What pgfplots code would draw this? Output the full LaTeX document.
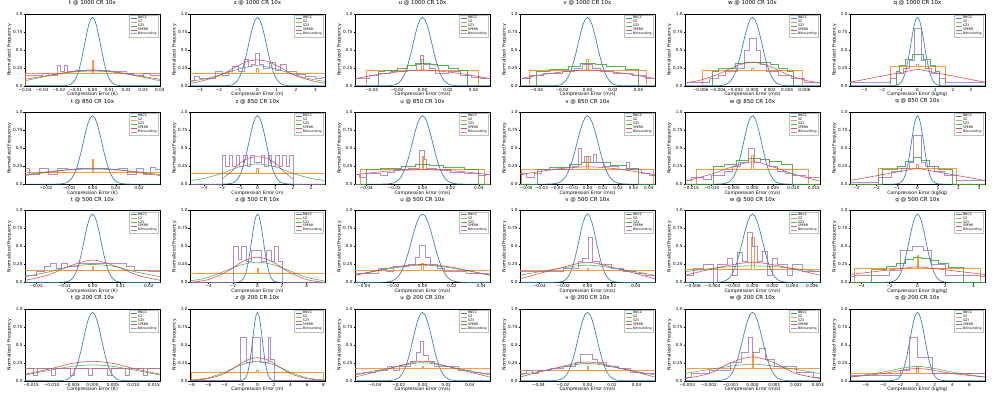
\documentclass[border=0pt]{standalone}
\usepackage{fontspec}
\setmainfont{DejaVu Sans}
\usepackage{pgfplots}
\usepackage{pgfplotstable}
\pgfplotsset{compat=1.18}
\usepgfplotslibrary{groupplots}
\definecolor{cB}{HTML}{1f77b4}
\definecolor{cO}{HTML}{ff7f0e}
\definecolor{cG}{HTML}{2ca02c}
\definecolor{cR}{HTML}{d62728}
\definecolor{cP}{HTML}{9467bd}
\newcommand{\ttl}{\fontsize{5.5}{6}\selectfont}
\newcommand{\lb}{\fontsize{4.6}{5}\selectfont}
\newcommand{\tk}{\fontsize{4.2}{4.6}\selectfont}
\newcommand{\lgf}{\fontsize{3.2}{3.6}\selectfont}

% BNCC bell shape, x in units of its width
\pgfplotstableread{
u g
-40 0
-4 0.0003
-3.5 0.0021
-3 0.0105
-2.75 0.0216
-2.5 0.0417
-2.25 0.0756
-2 0.1286
-1.75 0.2055
-1.5 0.3084
-1.25 0.4349
-1 0.5762
-0.75 0.7171
-0.5 0.8384
-0.25 0.9208
0 0.95
0.25 0.9208
0.5 0.8384
0.75 0.7171
1 0.5762
1.25 0.4349
1.5 0.3084
1.75 0.2055
2 0.1286
2.25 0.0756
2.5 0.0417
2.75 0.0216
3 0.0105
3.5 0.0021
4 0.0003
40 0
}\gauss

\newcommand{\bncc}[1]{\addplot[cB, line width=0.7pt, opacity=0.9] table[x expr=\thisrow{u}*#1, y=g]{\gauss};}
\newcommand{\ex}[1]{\node[anchor=north east, font=\tk, inner sep=0pt] at (rel axis cs:1,0) [yshift=-8.5pt] {#1};}

\pgfplotsset{
 tA/.style={xtick={-0.04,-0.03,-0.02,-0.01,0,0.01,0.02,0.03,0.04},xticklabels={−0.04,−0.03,−0.02,−0.01,0.00,0.01,0.02,0.03,0.04}},
 tB/.style={xtick={-0.04,-0.02,0,0.02,0.04},xticklabels={−0.04,−0.02,0.00,0.02,0.04}},
 tC/.style={xtick={-0.02,-0.01,0,0.01,0.02},xticklabels={−0.02,−0.01,0.00,0.01,0.02}},
 tD/.style={xtick={-0.015,-0.01,-0.005,0,0.005,0.01,0.015},xticklabels={−0.015,−0.010,−0.005,0.000,0.005,0.010,0.015}},
 tE/.style={xtick={-0.006,-0.004,-0.002,0,0.002,0.004,0.006},xticklabels={−0.006,−0.004,−0.002,0.000,0.002,0.004,0.006}},
 tF/.style={xtick={-0.003,-0.002,-0.001,0,0.001,0.002,0.003},xticklabels={−0.003,−0.002,−0.001,0.000,0.001,0.002,0.003}},
 i3/.style={xtick={-3,-2,-1,0,1,2,3},xticklabels={−3,−2,−1,0,1,2,3}},
 i4/.style={xtick={-4,-2,0,2,4},xticklabels={−4,−2,0,2,4}},
 i6/.style={xtick={-6,-4,-2,0,2,4,6},xticklabels={−6,−4,−2,0,2,4,6}},
 i8/.style={xtick={-8,-6,-4,-2,0,2,4,6,8},xticklabels={−8,−6,−4,−2,0,2,4,6,8}},
 pO/.style={cO, line width=0.6pt, opacity=0.8},
 pG/.style={cG, line width=0.6pt, opacity=0.8},
 pR/.style={cR, line width=0.6pt, opacity=0.8},
 pP/.style={cP, line width=0.6pt, opacity=0.75},
}

\begin{document}
\begin{tikzpicture}
\begin{groupplot}[
  group style={group size=6 by 4, horizontal sep=30pt, vertical sep=26.3pt},
  width=135pt, height=72pt, scale only axis,
  ymin=0, ymax=1,
  ytick={0,0.25,0.5,0.75,1}, yticklabels={0.0,0.25,0.5,0.75,1.0},
  scaled x ticks=false, scaled y ticks=false,
  ylabel={Normalized Frequency},
  label style={font=\lb},
  tick label style={font=\tk},
  xticklabel style={inner sep=0.6pt},
  yticklabel style={inner sep=0.8pt},
  title style={font=\ttl, inner sep=0.5pt, yshift=1.4pt},
  tick pos=left, tick align=outside, major tick length=1.5pt,
  every tick/.style={black, line width=0.3pt},
  axis line style={line width=0.4pt},
  xlabel style={inner sep=0.4pt},
  ylabel style={inner sep=0.6pt},
  legend entries={BNCC,SZ,SZ3,SPERR,Bitrounding},
  legend style={font=\lgf, at={(0.985,0.985)}, anchor=north east, draw=black!25,
    inner sep=0.6pt, row sep=-1.2pt, cells={anchor=west}, nodes={inner sep=0.6pt}},
  legend image code/.code={\draw[#1] (0pt,0pt) -- (6.5pt,0pt);},
]
%% ---------- row 1: 1000 ----------
\nextgroupplot[title={t @ 1000 CR 10x}, xmin=-0.04005, xmax=0.04005, tA, xlabel={Compression Error (K)}]
\bncc{0.0047}
\addplot[pO, const plot] coordinates {(-0.04,0)(-0.04,0.17)(-0.0004,0.35)(0.0004,0.17)(0.04,0.17)};
\addplot[pG, smooth] coordinates {(-0.04,0.07)(-0.03,0.12)(-0.02,0.165)(-0.01,0.195)(0,0.205)(0.01,0.195)(0.02,0.165)(0.03,0.12)(0.04,0.07)};
\addplot[pR, smooth] coordinates {(-0.04,0.09)(-0.03,0.13)(-0.02,0.17)(-0.01,0.205)(0,0.22)(0.01,0.205)(0.02,0.17)(0.03,0.13)(0.04,0.09)};
\addplot[pP, const plot] coordinates {(-0.04,0.15)(-0.03,0.17)(-0.026,0.15)(-0.021,0.28)(-0.019,0.2)(-0.017,0.28)(-0.015,0.2)(-0.01,0.21)(0.01,0.2)(0.02,0.17)(0.024,0.15)(0.03,0.17)(0.034,0.15)(0.04,0.15)};

\nextgroupplot[title={z @ 1000 CR 10x}, xmin=-3.5, xmax=3.5, i3, xlabel={Compression Error (m)}]
\bncc{0.46}
\addplot[pO, const plot] coordinates {(-3.5,0.17)(-0.04,0.25)(0.04,0.17)(3.5,0.17)};
\addplot[pG, smooth] coordinates {(-3.5,0.06)(-2.5,0.11)(-1.5,0.19)(-0.75,0.25)(0,0.28)(0.75,0.25)(1.5,0.19)(2.5,0.11)(3.5,0.06)};
\addplot[pR, smooth] coordinates {(-3.5,0.035)(-3,0.06)(-2,0.14)(-1,0.28)(-0.5,0.34)(0,0.36)(0.5,0.34)(1,0.28)(2,0.14)(3,0.06)(3.5,0.035)};
\addplot[pP, const plot] coordinates {(-3.5,0.07)(-3.3,0.13)(-3.0,0.1)(-2.2,0.2)(-1.8,0.15)(-1.5,0.2)(-1.3,0.27)(-1.0,0.2)(-0.7,0.37)(-0.5,0.27)(-0.3,0.3)(-0.1,0.45)(0.1,0.3)(0.3,0.25)(0.6,0.32)(0.9,0.22)(1.2,0.3)(1.5,0.2)(2.0,0.16)(2.5,0.13)(3.0,0.1)(3.3,0.12)(3.5,0.12)};

\nextgroupplot[title={u @ 1000 CR 10x}, xmin=-0.053, xmax=0.053, tB, xlabel={Compression Error (m/s)}]
\bncc{0.0075}
\addplot[pO, const plot] coordinates {(-0.053,0)(-0.044,0.21)(-0.0006,0.37)(0.0006,0.21)(0.044,0)(0.053,0)};
\addplot[pG, const plot] coordinates {(-0.053,0)(-0.035,0.2)(-0.03,0.22)(-0.02,0.25)(-0.012,0.29)(-0.006,0.31)(0.006,0.3)(0.012,0.28)(0.02,0.25)(0.028,0.22)(0.035,0)(0.053,0)};
\addplot[pR, smooth] coordinates {(-0.053,0.1)(-0.03,0.17)(0,0.22)(0.03,0.17)(0.053,0.1)};
\addplot[pP, const plot] coordinates {(-0.053,0.1)(-0.042,0.14)(-0.035,0.17)(-0.025,0.2)(-0.012,0.22)(-0.005,0.3)(-0.002,0.42)(0.001,0.3)(0.005,0.25)(0.01,0.17)(0.02,0.2)(0.03,0.15)(0.038,0.12)(0.045,0.1)(0.053,0.1)};

\nextgroupplot[title={v @ 1000 CR 10x}, xmin=-0.053, xmax=0.053, tB, xlabel={Compression Error (m/s)}]
\bncc{0.0075}
\addplot[pO, const plot] coordinates {(-0.053,0)(-0.046,0.21)(-0.0006,0.37)(0.0006,0.21)(0.046,0)(0.053,0)};
\addplot[pG, const plot] coordinates {(-0.053,0)(-0.04,0.2)(-0.03,0.23)(-0.015,0.27)(-0.006,0.31)(0.006,0.3)(0.015,0.27)(0.03,0.23)(0.04,0)(0.053,0)};
\addplot[pR, smooth] coordinates {(-0.053,0.1)(-0.03,0.17)(0,0.22)(0.03,0.17)(0.053,0.1)};
\addplot[pP, const plot] coordinates {(-0.053,0.1)(-0.045,0.15)(-0.035,0.18)(-0.02,0.2)(-0.01,0.25)(-0.004,0.3)(0.004,0.25)(0.01,0.2)(0.02,0.18)(0.035,0.14)(0.045,0.1)(0.053,0.1)};

\nextgroupplot[title={w @ 1000 CR 10x}, xmin=-0.0078, xmax=0.0078, tE, xlabel={Compression Error (m/s)}]
\bncc{0.0011}
\addplot[pO, const plot] coordinates {(-0.0078,0)(-0.0058,0.21)(-0.0001,0.25)(0.0001,0.21)(0.0058,0)(0.0078,0)};
\addplot[pG, const plot] coordinates {(-0.0078,0)(-0.0047,0.2)(-0.004,0.24)(-0.002,0.31)(-0.001,0.33)(0.001,0.32)(0.002,0.3)(0.003,0.25)(0.004,0.2)(0.0047,0)(0.0078,0)};
\addplot[pR, smooth] coordinates {(-0.0078,0.04)(-0.006,0.08)(-0.004,0.16)(-0.002,0.27)(0,0.33)(0.002,0.27)(0.004,0.16)(0.006,0.08)(0.0078,0.04)};
\addplot[pP, const plot] coordinates {(-0.0078,0.05)(-0.0065,0.05)(-0.005,0.1)(-0.004,0.14)(-0.0032,0.2)(-0.0018,0.25)(-0.0009,0.5)(-0.0004,0.66)(0.0004,0.5)(0.0009,0.3)(0.0016,0.2)(0.003,0.15)(0.0045,0.1)(0.006,0.05)(0.0078,0.05)};

\nextgroupplot[title={q @ 1000 CR 10x}, xmin=-3.8, xmax=3.8, i3, xlabel={Compression Error (kg/kg)}]
\bncc{0.38}
\addplot[pO, const plot] coordinates {(-3.8,0)(-1.55,0.27)(-0.05,0.3)(0.05,0.27)(1.55,0)(3.8,0)};
\addplot[pG, const plot] coordinates {(-3.8,0)(-1.2,0.2)(-1.0,0.28)(-0.7,0.37)(-0.3,0.44)(0.3,0.37)(0.7,0.28)(1.0,0.2)(1.2,0)(3.8,0)};
\addplot[pR] coordinates {(-3.8,0.05)(0,0.23)(3.8,0.05)};
\addplot[pP, const plot] coordinates {(-3.8,0.05)(-1.55,0.1)(-1.2,0.18)(-0.8,0.25)(-0.45,0.35)(-0.2,0.8)(0.2,0.35)(0.45,0.25)(0.8,0.18)(1.2,0.1)(1.55,0.05)(3.8,0.05)};
\ex{1e−5}

%% ---------- row 2: 850 ----------
\nextgroupplot[title={t @ 850 CR 10x}, xmin=-0.029, xmax=0.029, tC, xlabel={Compression Error (K)}]
\bncc{0.004}
\addplot[pO, const plot] coordinates {(-0.029,0.17)(-0.0003,0.35)(0.0003,0.17)(0.029,0.17)};
\addplot[pG, smooth] coordinates {(-0.029,0.13)(-0.02,0.17)(-0.01,0.2)(0,0.21)(0.01,0.2)(0.02,0.17)(0.029,0.13)};
\addplot[pR, smooth] coordinates {(-0.029,0.12)(-0.02,0.16)(-0.01,0.2)(0,0.22)(0.01,0.2)(0.02,0.16)(0.029,0.12)};
\addplot[pP, const plot] coordinates {(-0.029,0.22)(-0.027,0.14)(-0.023,0.22)(-0.019,0.14)(-0.015,0.22)(-0.011,0.2)(-0.007,0.22)(0.007,0.2)(0.011,0.22)(0.015,0.14)(0.019,0.22)(0.022,0.14)(0.025,0.24)(0.027,0.2)(0.029,0.2)};

\nextgroupplot[title={z @ 850 CR 10x}, xmin=-3.8, xmax=3.8, i3, xlabel={Compression Error (m)}]
\bncc{0.49}
\addplot[pO, const plot] coordinates {(-3.8,0.155)(-0.04,0.22)(0.04,0.155)(3.8,0.155)};
\addplot[pG, smooth] coordinates {(-3.8,0.05)(-3,0.08)(-2,0.15)(-1,0.24)(0,0.28)(1,0.24)(2,0.15)(3,0.08)(3.8,0.05)};
\addplot[pR, smooth] coordinates {(-2,0.07)(-1.5,0.17)(-1,0.29)(-0.5,0.36)(0,0.38)(0.5,0.36)(1,0.29)(1.5,0.17)(2,0.07)};
\addplot[pP, const plot] coordinates {(-3.8,0)(-2,0.4)(-1.8,0.25)(-1.6,0.4)(-1.4,0.25)(-1.2,0.4)(-1.0,0.25)(-0.8,0.4)(-0.6,0.25)(-0.4,0.4)(-0.2,0.3)(0.2,0.4)(0.4,0.25)(0.6,0.4)(0.8,0.25)(1.0,0.4)(1.2,0.25)(1.4,0.4)(1.6,0.25)(1.8,0.4)(2.0,0)(3.8,0)};

\nextgroupplot[title={u @ 850 CR 10x}, xmin=-0.048, xmax=0.048, tB, xlabel={Compression Error (m/s)}]
\bncc{0.0072}
\addplot[pO, const plot] coordinates {(-0.048,0)(-0.044,0.2)(-0.0005,0.38)(0.0005,0.2)(0.044,0)(0.048,0)};
\addplot[pG, const plot] coordinates {(-0.048,0)(-0.04,0.2)(-0.03,0.22)(-0.015,0.25)(-0.005,0.27)(0.005,0.26)(0.015,0.24)(0.03,0.21)(0.04,0)(0.048,0)};
\addplot[pR, smooth] coordinates {(-0.048,0.13)(-0.025,0.18)(0,0.2)(0.025,0.18)(0.048,0.13)};
\addplot[pP, const plot] coordinates {(-0.048,0.13)(-0.045,0.1)(-0.04,0.15)(-0.03,0.12)(-0.025,0.17)(-0.02,0.2)(-0.01,0.22)(-0.002,0.47)(0.001,0.35)(0.003,0.22)(0.01,0.2)(0.02,0.17)(0.03,0.15)(0.04,0.12)(0.045,0.14)(0.048,0.13)};

\nextgroupplot[title={v @ 850 CR 10x}, xmin=-0.04405, xmax=0.04405, tA, xlabel={Compression Error (m/s)}]
\bncc{0.0068}
\addplot[pO, const plot] coordinates {(-0.044,0)(-0.043,0.21)(-0.0005,0.38)(0.0005,0.21)(0.043,0)(0.044,0)};
\addplot[pG, const plot] coordinates {(-0.044,0)(-0.033,0.2)(-0.025,0.23)(-0.012,0.28)(-0.004,0.31)(0.006,0.3)(0.015,0.26)(0.025,0.22)(0.033,0)(0.044,0)};
\addplot[pR, smooth] coordinates {(-0.044,0.13)(-0.02,0.21)(0,0.24)(0.02,0.21)(0.044,0.13)};
\addplot[pP, const plot] coordinates {(-0.044,0.15)(-0.04,0.1)(-0.035,0.15)(-0.03,0.2)(-0.02,0.2)(-0.01,0.25)(-0.006,0.5)(-0.004,0.3)(-0.002,0.38)(0.002,0.3)(0.004,0.42)(0.006,0.3)(0.01,0.25)(0.02,0.2)(0.025,0.3)(0.027,0.2)(0.035,0.15)(0.04,0.12)(0.044,0.12)};

\nextgroupplot[title={w @ 850 CR 10x}, xmin=-0.0165, xmax=0.0165, tD, xlabel={Compression Error (m/s)}]
\bncc{0.0022}
\addplot[pO, const plot] coordinates {(-0.0165,0)(-0.0137,0.21)(-0.0002,0.4)(0.0002,0.21)(0.0137,0)(0.0165,0)};
\addplot[pG, const plot] coordinates {(-0.0165,0)(-0.0097,0.25)(-0.007,0.27)(-0.004,0.33)(-0.001,0.36)(0.002,0.35)(0.004,0.32)(0.007,0.27)(0.0097,0)(0.0165,0)};
\addplot[pR, smooth] coordinates {(-0.0165,0.04)(-0.01,0.14)(-0.005,0.24)(0,0.31)(0.005,0.24)(0.01,0.14)(0.0165,0.04)};
\addplot[pP, const plot] coordinates {(-0.0165,0.05)(-0.015,0.1)(-0.012,0.07)(-0.01,0.12)(-0.007,0.18)(-0.005,0.25)(-0.003,0.3)(-0.001,0.5)(0.0005,0.3)(0.002,0.35)(0.004,0.25)(0.006,0.18)(0.008,0.15)(0.01,0.12)(0.013,0.1)(0.0165,0.07)};

\nextgroupplot[title={q @ 850 CR 10x}, xmin=-3.3, xmax=3.3, i3, xlabel={Compression Error (kg/kg)}]
\bncc{0.3}
\addplot[pO, const plot] coordinates {(-3.3,0)(-1.9,0.22)(-0.05,0.27)(0.05,0.22)(1.9,0)(3.3,0)};
\addplot[pG, const plot] coordinates {(-3.3,0)(-1.7,0.2)(-1.0,0.25)(-0.6,0.32)(-0.2,0.37)(0.2,0.33)(0.6,0.25)(1.0,0.2)(1.7,0)(3.3,0)};
\addplot[pR] coordinates {(-3.3,0.05)(0,0.22)(3.3,0.05)};
\addplot[pP, const plot] coordinates {(-3.3,0.03)(-1.9,0.1)(-1.3,0.18)(-0.8,0.22)(-0.4,0.3)(-0.2,0.68)(0.2,0.3)(0.4,0.25)(0.8,0.18)(1.3,0.12)(1.9,0.05)(3.3,0.05)};
\ex{1e−5}

%% ---------- row 3: 500 ----------
\nextgroupplot[title={t @ 500 CR 10x}, xmin=-0.024, xmax=0.024, tC, xlabel={Compression Error (K)}]
\bncc{0.003}
\addplot[pO, const plot] coordinates {(-0.024,0.17)(-0.0002,0.22)(0.0002,0.17)(0.024,0.17)};
\addplot[pG, smooth] coordinates {(-0.024,0.08)(-0.015,0.15)(-0.008,0.22)(0,0.25)(0.008,0.22)(0.015,0.15)(0.024,0.08)};
\addplot[pR, smooth] coordinates {(-0.024,0.03)(-0.016,0.1)(-0.008,0.23)(0,0.31)(0.008,0.23)(0.016,0.1)(0.024,0.03)};
\addplot[pP, const plot] coordinates {(-0.024,0.1)(-0.02,0.15)(-0.017,0.22)(-0.015,0.27)(-0.013,0.2)(-0.011,0.27)(-0.009,0.22)(-0.005,0.26)(0.005,0.27)(0.009,0.26)(0.012,0.22)(0.015,0.17)(0.02,0.15)(0.024,0.15)};

\nextgroupplot[title={z @ 500 CR 10x}, xmin=-5.5, xmax=5.5, i4, xlabel={Compression Error (m)}]
\bncc{0.48}
\addplot[pO, const plot] coordinates {(-5.5,0.13)(-0.05,0.2)(0.05,0.13)(5.5,0.13)};
\addplot[pG, smooth] coordinates {(-5.5,0.02)(-4,0.07)(-2.5,0.17)(-1.2,0.25)(0,0.28)(1.2,0.25)(2.5,0.17)(4,0.07)(5.5,0.02)};
\addplot[pR, smooth] coordinates {(-5.5,0.0)(-4,0.04)(-2.5,0.15)(-1.2,0.29)(0,0.35)(1.2,0.29)(2.5,0.15)(4,0.04)(5.5,0.0)};
\addplot[pP, const plot] coordinates {(-5.5,0)(-2,0.5)(-1.6,0.32)(-1.3,0.5)(-0.9,0.3)(-0.5,0.45)(0.3,0.3)(0.7,0.45)(1.1,0.3)(1.4,0.5)(1.7,0.3)(2,0)(5.5,0)};

\nextgroupplot[title={u @ 500 CR 10x}, xmin=-0.046, xmax=0.046, tB, xlabel={Compression Error (m/s)}]
\bncc{0.0075}
\addplot[pO, const plot] coordinates {(-0.046,0.17)(-0.0005,0.27)(0.0005,0.17)(0.046,0.17)};
\addplot[pG, smooth] coordinates {(-0.046,0.1)(-0.02,0.2)(0,0.24)(0.02,0.2)(0.046,0.1)};
\addplot[pR, smooth] coordinates {(-0.046,0.1)(-0.02,0.21)(0,0.25)(0.02,0.21)(0.046,0.1)};
\addplot[pP, const plot] coordinates {(-0.046,0.12)(-0.03,0.2)(-0.025,0.15)(-0.02,0.22)(-0.01,0.25)(-0.005,0.35)(-0.002,0.52)(0.002,0.35)(0.005,0.25)(0.01,0.2)(0.015,0.15)(0.03,0.12)(0.046,0.12)};

\nextgroupplot[title={v @ 500 CR 10x}, xmin=-0.056, xmax=0.056, tB, xlabel={Compression Error (m/s)}]
\bncc{0.0072}
\addplot[pO, const plot] coordinates {(-0.056,0.17)(-0.0005,0.2)(0.0005,0.17)(0.056,0.17)};
\addplot[pG, smooth] coordinates {(-0.056,0.1)(-0.025,0.19)(0,0.24)(0.025,0.19)(0.056,0.1)};
\addplot[pR, smooth] coordinates {(-0.056,0.05)(-0.025,0.19)(0,0.28)(0.025,0.19)(0.056,0.05)};
\addplot[pP, const plot] coordinates {(-0.056,0.15)(-0.04,0.15)(-0.02,0.2)(-0.008,0.3)(-0.004,0.33)(0.001,0.62)(0.004,0.3)(0.01,0.25)(0.02,0.2)(0.03,0.15)(0.04,0.12)(0.048,0.1)(0.056,0.1)};

\nextgroupplot[title={w @ 500 CR 10x}, xmin=-0.0068, xmax=0.0068, tE, xlabel={Compression Error (m/s)}]
\bncc{0.001}
\addplot[pO, const plot] coordinates {(-0.0068,0.18)(-0.00015,0.62)(0.00015,0.18)(0.0068,0.18)};
\addplot[pG, smooth] coordinates {(-0.0068,0.15)(-0.003,0.21)(0,0.23)(0.003,0.21)(0.0068,0.15)};
\addplot[pR, smooth] coordinates {(-0.0068,0.1)(-0.003,0.22)(0,0.28)(0.003,0.22)(0.0068,0.1)};
\addplot[pP, const plot] coordinates {(-0.0068,0.1)(-0.006,0.2)(-0.005,0.25)(-0.004,0.0)(-0.0035,0.25)(-0.0025,0.33)(-0.002,0.1)(-0.0015,0.42)(-0.001,0.3)(-0.0005,0.7)(0,0.5)(0.0005,0.3)(0.001,0.43)(0.0015,0.1)(0.002,0.33)(0.0025,0.25)(0.0035,0.1)(0.004,0.25)(0.005,0.15)(0.0068,0.15)};

\nextgroupplot[title={q @ 500 CR 10x}, xmin=-4.83, xmax=4.83, i4, xlabel={Compression Error (kg/kg)}]
\bncc{0.6}
\addplot[pO, const plot] coordinates {(-4.83,0)(-4.5,0.19)(-0.05,0.37)(0.05,0.19)(4.5,0)(4.83,0)};
\addplot[pG, const plot] coordinates {(-4.83,0)(-3.3,0.18)(-2.2,0.22)(-1.5,0.27)(-0.9,0.32)(-0.3,0.35)(0.3,0.34)(0.9,0.31)(1.5,0.26)(2.2,0.21)(3.3,0)(4.83,0)};
\addplot[pR] coordinates {(-4.83,0.11)(0,0.22)(4.83,0.11)};
\addplot[pP, const plot] coordinates {(-4.83,0.08)(-4.5,0.1)(-2.0,0.17)(-1.2,0.45)(-0.4,0.5)(0.4,0.45)(1.0,0.25)(2.0,0.1)(4.5,0.08)(4.83,0.08)};
\ex{1e−6}

%% ---------- row 4: 200 ----------
\nextgroupplot[title={t @ 200 CR 10x}, xmin=-0.0165, xmax=0.0165, tD, xlabel={Compression Error (K)}]
\bncc{0.0022}
\addplot[pO, const plot] coordinates {(-0.0165,0.17)(0.0165,0.17)};
\addplot[pG, smooth] coordinates {(-0.0165,0.08)(-0.01,0.15)(-0.005,0.2)(0,0.22)(0.005,0.2)(0.01,0.15)(0.0165,0.08)};
\addplot[pR, smooth] coordinates {(-0.0165,0.09)(-0.01,0.17)(-0.005,0.24)(0,0.27)(0.005,0.24)(0.01,0.17)(0.0165,0.09)};
\addplot[pP, const plot] coordinates {(-0.0165,0.17)(-0.0145,0.08)(-0.0135,0.17)(-0.01,0.08)(-0.009,0.17)(-0.0055,0.08)(-0.0045,0.17)(-0.001,0.08)(0,0.17)(0.0035,0.08)(0.0045,0.17)(0.008,0.08)(0.009,0.17)(0.0125,0.08)(0.0135,0.17)(0.0165,0.17)};

\nextgroupplot[title={z @ 200 CR 10x}, xmin=-8.2, xmax=8.2, i8, xlabel={Compression Error (m)}]
\bncc{0.58}
\addplot[pO, const plot] coordinates {(-8.2,0)(-8,0.12)(-0.1,0.14)(0.1,0.12)(8,0)(8.2,0)};
\addplot[pG, smooth] coordinates {(-8.2,0.01)(-6,0.04)(-4,0.12)(-2,0.22)(0,0.27)(2,0.22)(4,0.12)(6,0.04)(8.2,0.01)};
\addplot[pR, smooth] coordinates {(-8.2,0)(-6,0.03)(-4,0.1)(-2,0.24)(-1,0.3)(0,0.32)(1,0.3)(2,0.24)(4,0.1)(6,0.03)(8.2,0)};
\addplot[pP, const plot] coordinates {(-8.2,0)(-2.1,0.6)(-1.4,0.25)(-0.6,0.6)(0.4,0.25)(1.3,0.6)(1.6,0.3)(2.0,0)(8.2,0)};

\nextgroupplot[title={u @ 200 CR 10x}, xmin=-0.057, xmax=0.057, tB, xlabel={Compression Error (m/s)}]
\bncc{0.008}
\addplot[pO, const plot] coordinates {(-0.057,0.17)(-0.0005,0.2)(0.0005,0.17)(0.057,0.17)};
\addplot[pG, smooth] coordinates {(-0.057,0.08)(-0.03,0.17)(0,0.25)(0.03,0.17)(0.057,0.08)};
\addplot[pR, smooth] coordinates {(-0.057,0.05)(-0.03,0.16)(0,0.27)(0.03,0.16)(0.057,0.05)};
\addplot[pP, const plot] coordinates {(-0.057,0.1)(-0.05,0.12)(-0.04,0.15)(-0.03,0.2)(-0.025,0.15)(-0.02,0.2)(-0.01,0.27)(-0.005,0.4)(-0.002,0.55)(0.001,0.35)(0.005,0.27)(0.01,0.2)(0.02,0.2)(0.03,0.15)(0.04,0.12)(0.05,0.1)(0.057,0.1)};

\nextgroupplot[title={v @ 200 CR 10x}, xmin=-0.055, xmax=0.055, tB, xlabel={Compression Error (m/s)}]
\bncc{0.0078}
\addplot[pO, const plot] coordinates {(-0.055,0.15)(-0.0005,0.2)(0.0005,0.15)(0.055,0.15)};
\addplot[pG, smooth] coordinates {(-0.055,0.08)(-0.03,0.16)(0,0.24)(0.03,0.16)(0.055,0.08)};
\addplot[pR, smooth] coordinates {(-0.055,0.05)(-0.03,0.16)(0,0.26)(0.03,0.16)(0.055,0.05)};
\addplot[pP, const plot] coordinates {(-0.055,0.1)(-0.05,0.15)(-0.045,0.1)(-0.04,0.15)(-0.03,0.17)(-0.02,0.2)(-0.01,0.25)(-0.006,0.37)(0.004,0.3)(0.008,0.25)(0.015,0.2)(0.025,0.17)(0.035,0.12)(0.045,0.1)(0.055,0.1)};

\nextgroupplot[title={w @ 200 CR 10x}, xmin=-0.0031, xmax=0.0031, tF, xlabel={Compression Error (m/s)}]
\bncc{0.00045}
\addplot[pO, const plot] coordinates {(-0.0031,0.17)(-0.00003,0.4)(0.00003,0.17)(0.0031,0.17)};
\addplot[pG, smooth] coordinates {(-0.0031,0.1)(-0.0015,0.18)(0,0.23)(0.0015,0.18)(0.0031,0.1)};
\addplot[pR, smooth] coordinates {(-0.0031,0.03)(-0.002,0.1)(-0.001,0.25)(0,0.33)(0.001,0.25)(0.002,0.1)(0.0031,0.03)};
\addplot[pP, const plot] coordinates {(-0.0031,0.05)(-0.0028,0.1)(-0.002,0.15)(-0.001,0.25)(-0.0005,0.4)(-0.0002,0.6)(0,0.4)(0.0003,0.45)(0.0006,0.3)(0.001,0.2)(0.002,0.12)(0.0028,0.05)(0.0031,0.05)};

\nextgroupplot[title={q @ 200 CR 10x}, xmin=-7.8, xmax=7.8, i6, xlabel={Compression Error (kg/kg)}]
\bncc{0.86}
\addplot[pO, const plot] coordinates {(-7.8,0.1)(-0.1,0.2)(0.1,0.1)(7.8,0.1)};
\addplot[pG, smooth] coordinates {(-7.8,0.05)(-4,0.12)(-2,0.17)(0,0.2)(2,0.17)(4,0.12)(7.8,0.05)};
\addplot[pR, smooth] coordinates {(-7.8,0.05)(-4,0.1)(0,0.17)(4,0.1)(7.8,0.05)};
\addplot[pP, const plot] coordinates {(-7.8,0.08)(-2,0.15)(-1,0.6)(0,0.32)(1.7,0.1)(7.8,0.08)};
\ex{1e−8}
\end{groupplot}
\path (group c1r1.north west) ++(-25pt,12pt);
\path (group c6r4.south east) ++(12pt,-20pt);
\end{tikzpicture}
\end{document}
